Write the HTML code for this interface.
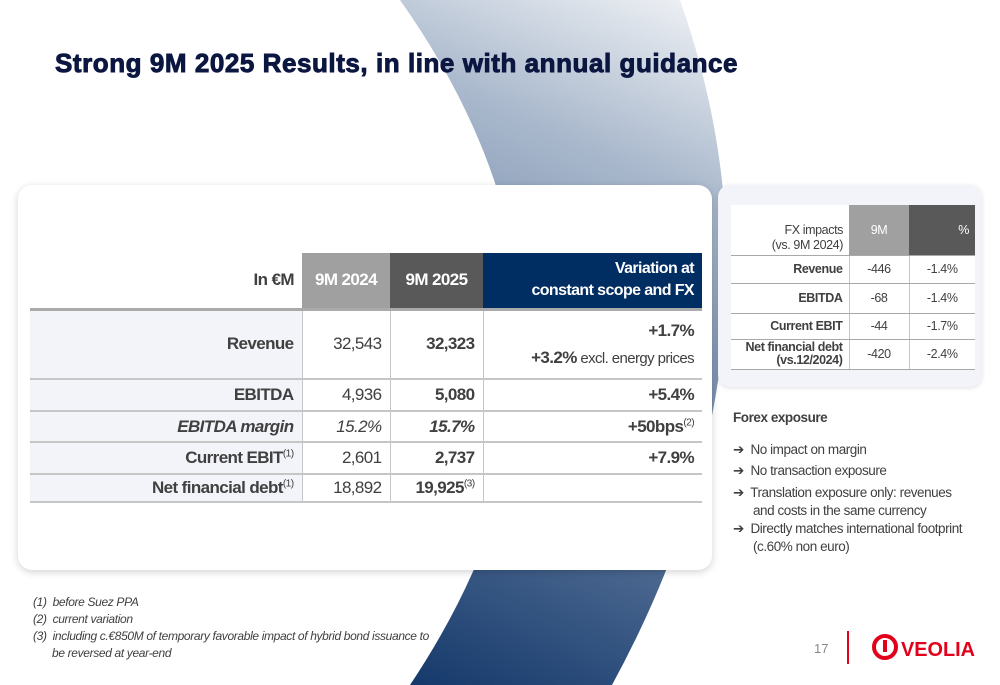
<!DOCTYPE html>
<html><head><meta charset="utf-8">
<style>
*{margin:0;padding:0;box-sizing:border-box}
body{width:1000px;height:685px;position:relative;overflow:hidden;background:#fff;font-family:"Liberation Sans",sans-serif;color:#404040}
.abs{position:absolute}
#bg{position:absolute;left:0;top:0}
h1{position:absolute;left:55px;top:48px;font-family:"Liberation Sans",sans-serif;font-weight:bold;font-size:26px;color:#0b1740;letter-spacing:0.55px;-webkit-text-stroke:0.9px #0b1740;white-space:nowrap}
.card{position:absolute;left:18px;top:185px;width:694px;height:385px;background:#fff;border-radius:14px;box-shadow:0 2px 8px rgba(0,0,0,0.18)}
.fxcard{position:absolute;left:718px;top:185px;width:264px;height:202px;background:#f3f4f9;border-radius:12px;box-shadow:0 1px 5px rgba(0,0,0,0.12)}
table{border-collapse:collapse;position:absolute;table-layout:fixed;white-space:nowrap}
td{padding:0 8px;text-align:right;vertical-align:middle;overflow:visible}
#main{left:30px;top:253px;width:672px;font-size:17px;letter-spacing:-0.6px}
#main td{border-bottom:2px solid #c6c6c6}
#main td.l{background:#f3f4fa;font-weight:bold;color:#404040}
#main td.c{border-left:1px solid #c6c6c6}
#main tr.h td{border-bottom:3px solid #aaa;font-weight:bold;color:#fff}
#main td.b{font-weight:bold}
sup{font-size:60%;font-weight:normal}
#fx{left:731px;top:205px;width:244px;font-size:12.5px;letter-spacing:-0.4px}
#fx td{border-bottom:1.5px solid #a8a8a8;padding:0 6px}
#fx td.l{font-weight:bold;background:#fff}
#fx td.c{border-left:1px solid #c6c6c6;text-align:center;background:#fff}
.fn{position:absolute;left:33px;font-style:italic;font-size:12px;letter-spacing:-0.35px;color:#404040;white-space:nowrap}
.bl{position:absolute;left:733px;font-size:13.5px;letter-spacing:-0.45px;color:#404040;white-space:nowrap}
</style></head><body>
<svg id="bg" width="1000" height="685">
<defs><linearGradient id="g" x1="420" y1="685" x2="720" y2="0" gradientUnits="userSpaceOnUse">
<stop offset="0" stop-color="#163a6c"/><stop offset="0.45" stop-color="#6f87a8"/><stop offset="0.75" stop-color="#a9b8cc"/><stop offset="1" stop-color="#f2f4f7"/></linearGradient></defs>
<path d="M400,0 Q640,340 410,685 L612,685 Q800,340 680,0 Z" fill="url(#g)"/>
</svg>
<h1>Strong 9M 2025 Results, in line with annual guidance</h1>
<div class="card"></div>
<table id="main">
<colgroup><col style="width:272px"><col style="width:88px"><col style="width:93px"><col style="width:219px"></colgroup>
<tr class="h" style="height:56px"><td class="l" style="background:#fff;color:#404040;border-bottom:3px solid #aaa">In €M</td><td style="background:#a0a0a0;text-align:center">9M 2024</td><td style="background:#595959;text-align:center">9M 2025</td><td style="background:#002d62;line-height:22px;font-size:16px">Variation at<br>constant scope and FX</td></tr>
<tr style="height:70px"><td class="l">Revenue</td><td class="c">32,543</td><td class="c b">32,323</td><td class="c" style="line-height:27px"><b>+1.7%</b><br><span style="font-size:15px"><b style="font-size:17px">+3.2%</b> excl. energy prices</span></td></tr>
<tr style="height:32px"><td class="l">EBITDA</td><td class="c">4,936</td><td class="c b">5,080</td><td class="c b">+5.4%</td></tr>
<tr style="height:31px"><td class="l"><i>EBITDA margin</i></td><td class="c"><i>15.2%</i></td><td class="c b"><i>15.7%</i></td><td class="c b">+50bps<sup>(2)</sup></td></tr>
<tr style="height:32px"><td class="l">Current EBIT<sup>(1)</sup></td><td class="c">2,601</td><td class="c b">2,737</td><td class="c b">+7.9%</td></tr>
<tr style="height:28px"><td class="l">Net financial debt<sup>(1)</sup></td><td class="c">18,892</td><td class="c b">19,925<sup>(3)</sup></td><td class="c"></td></tr>
</table>
<div class="fxcard"></div>
<table id="fx">
<colgroup><col style="width:118px"><col style="width:60px"><col style="width:66px"></colgroup>
<tr style="height:50px"><td class="l" style="font-weight:normal;vertical-align:bottom;line-height:15px;padding-bottom:2px">FX impacts<br>(vs. 9M 2024)</td><td style="background:#a0a0a0;color:#fff;text-align:center">9M</td><td style="background:#595959;color:#fff;text-align:right">%</td></tr>
<tr style="height:28px"><td class="l">Revenue</td><td class="c">-446</td><td class="c">-1.4%</td></tr>
<tr style="height:30px"><td class="l">EBITDA</td><td class="c">-68</td><td class="c">-1.4%</td></tr>
<tr style="height:26px"><td class="l">Current EBIT</td><td class="c">-44</td><td class="c">-1.7%</td></tr>
<tr style="height:30px"><td class="l" style="line-height:13px">Net financial debt<br>(vs.12/2024)</td><td class="c">-420</td><td class="c">-2.4%</td></tr>
</table>
<div class="bl" style="top:410px;font-weight:bold">Forex exposure</div>
<div class="bl" style="top:442px">➔&nbsp; No impact on margin</div>
<div class="bl" style="top:463px">➔&nbsp; No transaction exposure</div>
<div class="bl" style="top:484px;line-height:18px">➔&nbsp; Translation exposure only: revenues<br><span style="padding-left:20px">and costs in the same currency</span></div>
<div class="bl" style="top:520px;line-height:18px">➔&nbsp; Directly matches international footprint<br><span style="padding-left:20px">(c.60% non euro)</span></div>
<div class="fn" style="top:595px">(1)&nbsp; before Suez PPA</div>
<div class="fn" style="top:612px">(2)&nbsp; current variation</div>
<div class="fn" style="top:628px;line-height:17px">(3)&nbsp; including c.€850M of temporary favorable impact of hybrid bond issuance to<br><span style="padding-left:19px">be reversed at year-end</span></div>
<div class="abs" style="left:814px;top:641px;font-size:13px;color:#888">17</div>
<div class="abs" style="left:847px;top:631px;width:2px;height:33px;background:#e3001b"></div>
<svg class="abs" style="left:870px;top:630px" width="110" height="34">
<circle cx="15" cy="17" r="11" fill="none" stroke="#e3001b" stroke-width="4"/>
<path d="M15,10 L15,22" stroke="#e3001b" stroke-width="4"/>
<text x="31" y="26" font-family="Liberation Sans,sans-serif" font-weight="bold" font-size="20" fill="#e3001b" textLength="74" lengthAdjust="spacingAndGlyphs">VEOLIA</text>
</svg>
</body></html>
